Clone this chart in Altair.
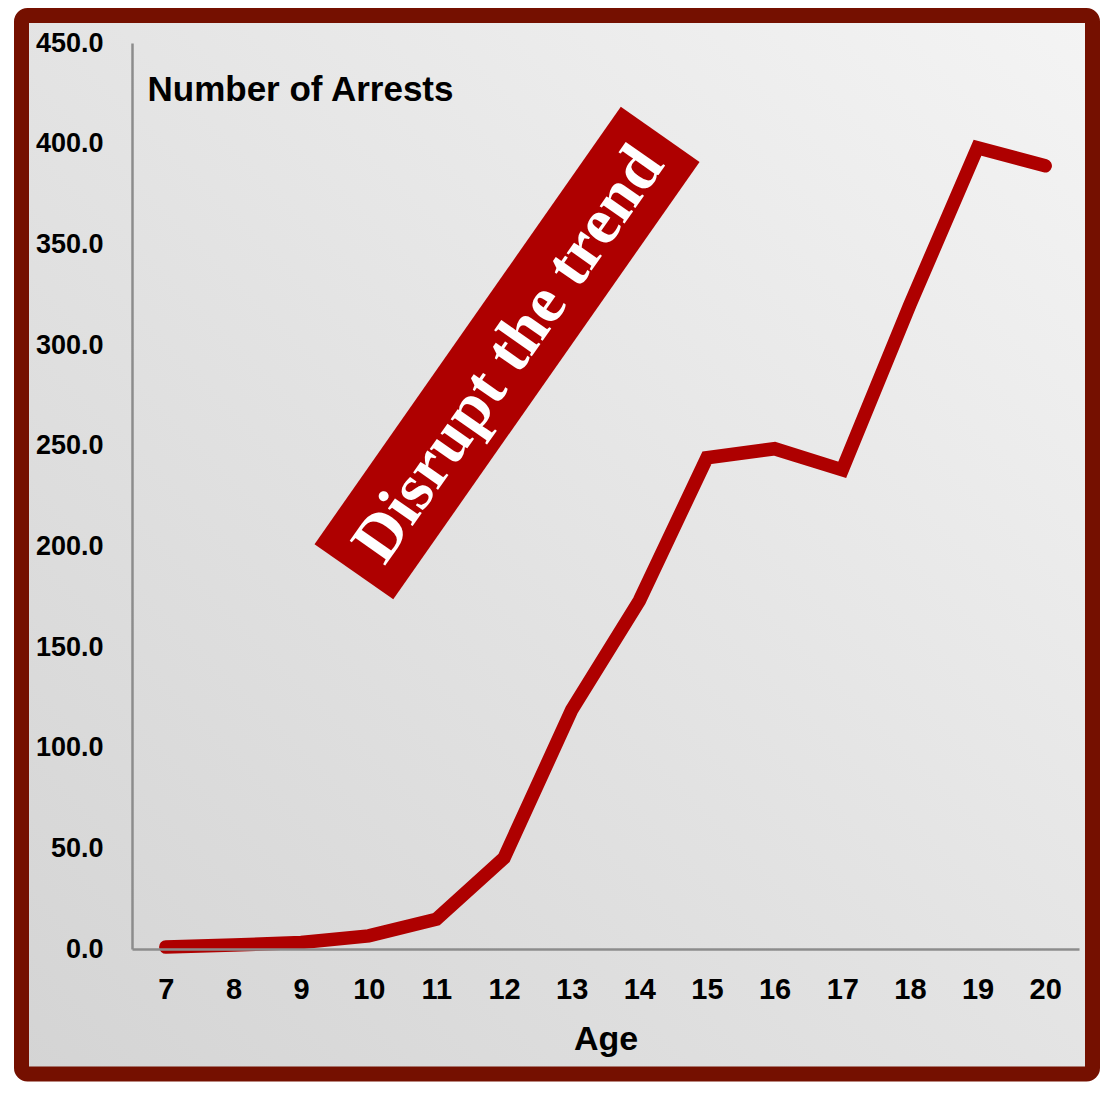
import altair as alt
import pandas as pd

ages = [7, 8, 9, 10, 11, 12, 13, 14, 15, 16, 17, 18, 19, 20]
arrests = [1.0, 2.0, 3.2, 6.5, 14.8, 45.2, 118.7, 173.0, 244.0, 248.5, 238.0, 320.0, 398.0, 389.0]
y_ticks = [0, 50, 100, 150, 200, 250, 300, 350, 400, 450]
banner_text = ["Disrupt the trend"]
banner_age = [12]
banner_value = [296]

SANS = "Liberation Sans Narrow, Arial Narrow, Liberation Sans, Arial, sans-serif"
SERIF = "Liberation Serif, Times New Roman, serif"
RED = "#ae0000"
FRAME = "#751000"

W, H = 947, 906

df = pd.DataFrame({"age": ages, "arrests": arrests})
banner = pd.DataFrame({"age": banner_age, "arrests": banner_value, "label": banner_text})

x_enc = alt.X(
    "age:O",
    sort=ages,
    scale=alt.Scale(type="point", padding=0.5, domain=ages),
    axis=alt.Axis(
        title="Age",
        labelAngle=0,
        ticks=False,
        grid=False,
        domainColor="#8c8c8c",
        domainWidth=2.5,
        labelFont=SANS,
        labelFontSize=29,
        labelFontWeight="bold",
        labelColor="#000000",
        labelPadding=26,
        titleFont=SANS,
        titleFontSize=34,
        titleFontWeight="bold",
        titleColor="#000000",
        titlePadding=18,
        zindex=1,
    ),
)
y_enc = alt.Y(
    "arrests:Q",
    scale=alt.Scale(domain=[0, 450], nice=False, zero=True),
    axis=alt.Axis(
        title="Number of Arrests",
        values=y_ticks,
        format=".1f",
        ticks=False,
        grid=False,
        domainColor="#8c8c8c",
        domainWidth=2.5,
        labelFont=SANS,
        labelFontSize=27,
        labelFontWeight="bold",
        labelColor="#000000",
        labelPadding=29,
        titleFont=SANS,
        titleFontSize=35,
        titleFontWeight="bold",
        titleColor="#000000",
        titleAngle=0,
        titleAlign="left",
        titleBaseline="alphabetic",
        titleX=15,
        titleY=57,
        zindex=1,
    ),
)

# decorative frame with gradient background (behind everything)
frame = alt.Chart(pd.DataFrame({"d": [0]})).mark_rect(
    fill=alt.Gradient(
        gradient="linear",
        stops=[
            alt.GradientStop(color="#f4f4f4", offset=0),
            alt.GradientStop(color="#e2e2e2", offset=0.55),
            alt.GradientStop(color="#d4d4d4", offset=1),
        ],
        x1=1, y1=0, x2=0, y2=1,
    ),
    stroke=FRAME,
    strokeWidth=15,
    cornerRadius=6,
).encode(
    x=alt.value(-110.5),
    x2=alt.value(960.5),
    y=alt.value(-27.5),
    y2=alt.value(1031),
)

line = alt.Chart(df).mark_line(
    color=RED, strokeWidth=13.5, strokeCap="round", strokeJoin="miter"
).encode(x=x_enc, y=y_enc)

banner_rect = alt.Chart(banner).mark_point(
    shape="M-1,-0.18L1,-0.18L1,0.18L-1,0.18Z",
    filled=True,
    fill=RED,
    opacity=1,
    strokeWidth=0,
    angle=305,
    xOffset=3,
).encode(
    x=alt.X("age:O", sort=ages),
    y=alt.Y("arrests:Q"),
    size=alt.value(285156),
)

banner_label = alt.Chart(banner).mark_text(
    font=SERIF,
    fontSize=66,
    fontWeight="bold",
    color="#ffffff",
    angle=305,
    align="center",
    baseline="middle",
    xOffset=3,
    dy=2,
).encode(
    x=alt.X("age:O", sort=ages),
    y=alt.Y("arrests:Q"),
    text="label:N",
)

chart = alt.layer(frame, line, banner_rect, banner_label).properties(
    width=W,
    height=H,
    autosize=alt.AutoSizeParams(type="none"),
    padding={"left": 124, "top": 35, "right": 21, "bottom": 133},
    background="#ffffff",
).configure_view(stroke=None)

chart.save("out.html", embed_options={"renderer": "svg", "actions": False})
